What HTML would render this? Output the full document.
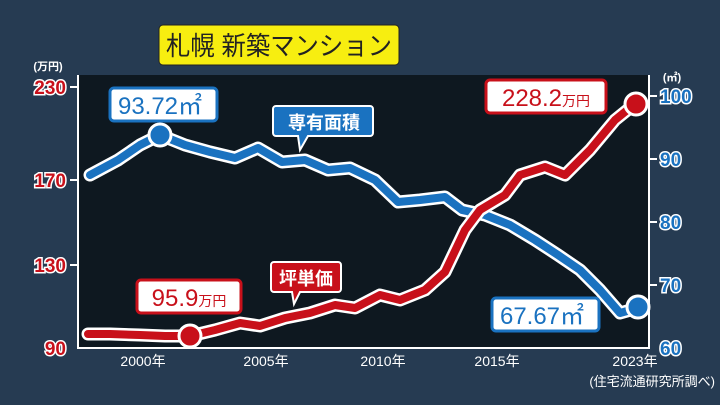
<!DOCTYPE html>
<html><head><meta charset="utf-8"><style>
body{margin:0;width:720px;height:405px;background:#263b52;overflow:hidden}
svg{display:block}
text{font-family:"Liberation Sans","Noto Sans CJK JP",sans-serif;font-weight:bold}
text.n{font-weight:normal}
</style></head><body>
<svg width="720" height="405" viewBox="0 0 720 405">
<rect width="720" height="405" fill="#263b52"/>
<rect x="78" y="75" width="571" height="273" fill="#0e1820"/>
<line x1="78" y1="75" x2="78" y2="349" stroke="#fff" stroke-width="2"/>
<line x1="649" y1="75" x2="649" y2="349" stroke="#fff" stroke-width="2"/>
<line x1="77" y1="348" x2="650" y2="348" stroke="#fff" stroke-width="2"/>
<g stroke="#fff" stroke-width="2">
<line x1="70" y1="87" x2="78" y2="87"/><line x1="70" y1="180" x2="78" y2="180"/><line x1="70" y1="265" x2="78" y2="265"/>
<line x1="649" y1="96" x2="657" y2="96"/><line x1="649" y1="159" x2="657" y2="159"/><line x1="649" y1="222" x2="657" y2="222"/><line x1="649" y1="285" x2="657" y2="285"/>
</g>
<!-- title -->
<rect x="159" y="25" width="240" height="40" rx="4" fill="#f7ee10" stroke="#222" stroke-width="1"/>
<text class="n" x="166" y="55" font-size="26" fill="#222" textLength="226" lengthAdjust="spacingAndGlyphs">札幌 新築マンション</text>
<!-- left axis -->
<text x="48" y="70" font-size="11" fill="#fff" text-anchor="middle">(万円)</text>
<g font-size="19" fill="#c8101a" stroke="#fff" stroke-width="3" paint-order="stroke" text-anchor="end">
<text x="66" y="94">230</text><text x="66" y="187">170</text><text x="66" y="272">130</text><text x="66" y="355">90</text>
</g>
<text x="672" y="81" font-size="11" fill="#fff" text-anchor="middle">(㎡)</text>
<g font-size="19" fill="#1a72c0" stroke="#fff" stroke-width="3" paint-order="stroke" text-anchor="start">
<text x="660" y="103">100</text><text x="660" y="166">90</text><text x="660" y="229">80</text><text x="660" y="292">70</text><text x="660" y="355">60</text>
</g>
<g font-size="14" fill="#fff" text-anchor="middle">
<text class="n" x="143" y="366">2000年</text><text class="n" x="266" y="366">2005年</text><text class="n" x="383" y="366">2010年</text><text class="n" x="497" y="366">2015年</text><text class="n" x="635" y="366">2023年</text>
</g>
<text class="n" x="715" y="386" font-size="13" fill="#fff" text-anchor="end">(住宅流通研究所調べ)</text>
<!-- blue line -->
<polyline fill="none" stroke="#fff" stroke-width="13" stroke-linejoin="round" stroke-linecap="round" points="90,175 118,160 140,145 160,135 185,145 210,152 235,158 258,148 282,162 305,160 328,170 350,168 375,180 398,202 420,200 445,197 462,210 485,215 510,225 535,240 558,255 580,270 600,290 620,313 638,308"/>
<polyline fill="none" stroke="#1a72c0" stroke-width="8" stroke-linejoin="round" stroke-linecap="round" points="90,175 118,160 140,145 160,135 185,145 210,152 235,158 258,148 282,162 305,160 328,170 350,168 375,180 398,202 420,200 445,197 462,210 485,215 510,225 535,240 558,255 580,270 600,290 620,313 638,308"/>
<!-- red line -->
<polyline fill="none" stroke="#fff" stroke-width="13" stroke-linejoin="round" stroke-linecap="round" points="88,334 110,334 140,335 165,336 190,336 215,330 240,323 260,326 285,318 310,313 335,305 355,308 380,295 400,300 425,290 445,272 465,230 480,210 505,195 520,175 545,167 565,175 590,150 615,120 636,103"/>
<polyline fill="none" stroke="#c8101a" stroke-width="8" stroke-linejoin="round" stroke-linecap="round" points="88,334 110,334 140,335 165,336 190,336 215,330 240,323 260,326 285,318 310,313 335,305 355,308 380,295 400,300 425,290 445,272 465,230 480,210 505,195 520,175 545,167 565,175 590,150 615,120 636,103"/>
<circle cx="160" cy="135" r="11" fill="#1a72c0" stroke="#fff" stroke-width="3"/>
<circle cx="638" cy="307" r="11" fill="#1a72c0" stroke="#fff" stroke-width="3"/>
<circle cx="190" cy="336" r="11" fill="#c8101a" stroke="#fff" stroke-width="3"/>
<circle cx="636" cy="104" r="11" fill="#c8101a" stroke="#fff" stroke-width="3"/>
<!-- labels -->
<rect x="110" y="88" width="107" height="33" rx="4" fill="#fff" stroke="#1a72c0" stroke-width="3"/>
<text class="n" x="160" y="114" font-size="24" fill="#1a72c0" text-anchor="middle">93.72㎡</text>
<rect x="492" y="298" width="107" height="33" rx="4" fill="#fff" stroke="#1a72c0" stroke-width="3"/>
<text class="n" x="542" y="324" font-size="24" fill="#1a72c0" text-anchor="middle">67.67㎡</text>
<rect x="137" y="280" width="104" height="33" rx="4" fill="#fff" stroke="#c8101a" stroke-width="3"/>
<text class="n" x="189" y="306" font-size="24" fill="#c8101a" text-anchor="middle">95.9<tspan font-size="14">万円</tspan></text>
<rect x="486" y="80" width="120" height="33" rx="4" fill="#fff" stroke="#c8101a" stroke-width="3"/>
<text class="n" x="546" y="106" font-size="24" fill="#c8101a" text-anchor="middle">228.2<tspan font-size="14">万円</tspan></text>
<path d="M276,106 h94 a3,3 0 0 1 3,3 v24 a3,3 0 0 1 -3,3 h-62 l-8,14 l-2,-14 h-22 a3,3 0 0 1 -3,-3 v-24 a3,3 0 0 1 3,-3z" fill="#1a72c0" stroke="#fff" stroke-width="2"/>
<text x="324" y="129" font-size="18" fill="#fff" text-anchor="middle">専有面積</text>
<path d="M274,262 h64 a3,3 0 0 1 3,3 v24 a3,3 0 0 1 -3,3 h-38 l-6,12 l-2,-12 h-18 a3,3 0 0 1 -3,-3 v-24 a3,3 0 0 1 3,-3z" fill="#c8101a" stroke="#fff" stroke-width="2"/>
<text x="306" y="285" font-size="18" fill="#fff" text-anchor="middle">坪単価</text>
</svg>
</body></html>
